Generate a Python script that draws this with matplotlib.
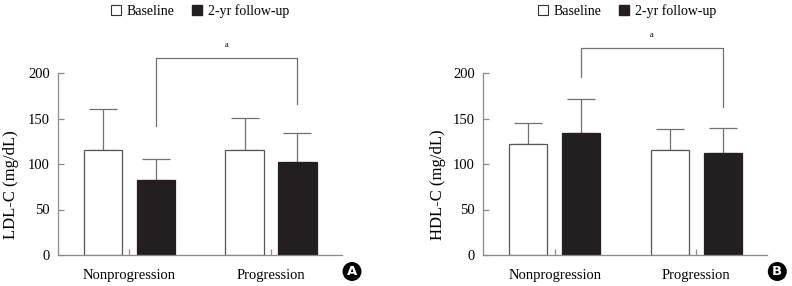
import matplotlib
matplotlib.use("Agg")
import matplotlib.pyplot as plt
from matplotlib.patches import Patch, Ellipse
import numpy as np

plt.rcParams['font.family'] = ['Liberation Serif', 'DejaVu Serif']

groups = ["Nonprogression", "Progression"]
series = ["Baseline", "2-yr follow-up"]

ldl_baseline = [115, 115]
ldl_baseline_sd = [45, 36]
ldl_followup = [82, 102]
ldl_followup_sd = [23, 32]

hdl_baseline = [122, 115]
hdl_baseline_sd = [23, 23]
hdl_followup = [134, 112]
hdl_followup_sd = [37, 28]

yticks = [0, 50, 100, 150, 200]

panels = [
    dict(label="LDL-C (mg/dL)", base=ldl_baseline, base_sd=ldl_baseline_sd,
         fu=ldl_followup, fu_sd=ldl_followup_sd, letter="A",
         bracket=(217, 142, 166), left=58, leg_x=200, lab_x=11),
    dict(label="HDL-C (mg/dL)", base=hdl_baseline, base_sd=hdl_baseline_sd,
         fu=hdl_followup, fu_sd=hdl_followup_sd, letter="B",
         bracket=(228, 196, 163), left=483.3, leg_x=627, lab_x=437.5),
]

W, H = 792, 286
fig = plt.figure(figsize=(W / 100, H / 100), dpi=100)

gray = "#8a8a8a"
black = "#231f20"
off = 0.187
bw = 0.27

for p in panels:
    ax = fig.add_axes([p["left"] / W, (H - 255) / H, 284 / W, 182 / H])
    x = np.arange(len(groups))
    ax.bar(x - off, p["base"], bw, color="white", edgecolor="#555555", linewidth=0.9, zorder=2)
    ax.bar(x + off, p["fu"], bw, color=black, edgecolor=black, linewidth=0.9, zorder=2)
    for xs, vals, sds in ((x - off, p["base"], p["base_sd"]), (x + off, p["fu"], p["fu_sd"])):
        ax.errorbar(xs, vals, yerr=[np.zeros(len(vals)), sds], fmt="none",
                    ecolor="#707070", elinewidth=0.9, capsize=10, capthick=0.9, zorder=1)
    ax.set_xlim(-0.505, 1.502)
    ax.set_ylim(0, 200)
    ax.set_yticks(yticks)
    ax.set_xticks(x)
    ax.set_xticklabels(groups)
    ax.tick_params(axis="both", direction="in", color=gray, length=4, width=0.9, labelsize=10.5)
    ax.tick_params(axis="y", pad=6)
    ax.tick_params(axis="x", pad=10)
    for s in ("top", "right"):
        ax.spines[s].set_visible(False)
    for s in ("left", "bottom"):
        ax.spines[s].set_color(gray)
        ax.spines[s].set_linewidth(0.9)
    fig.text(p["lab_x"] / W, 1 - 185 / H, p["label"], rotation=90, ha="center", va="center",
             fontsize=12)
    top, lb, rb = p["bracket"]
    ax.plot([off, off, 1 + off, 1 + off], [lb, top, top, rb], color="#707070",
            linewidth=0.9, clip_on=False)
    ax.text((2 * off + 1) / 2, top + 14, "a", ha="center", va="center", fontsize=6)
    handles = [Patch(facecolor="white", edgecolor="#333333", linewidth=0.8),
               Patch(facecolor=black, edgecolor=black)]
    fig.legend(handles, series, loc="center", bbox_to_anchor=(p["leg_x"] / W, 1 - 11 / H),
               ncol=2, frameon=False, fontsize=10, handlelength=0.72, handleheight=0.72,
               handletextpad=0.4, columnspacing=1.3, borderpad=0)
    cx = p["left"] + 294
    ell = Ellipse((cx / W, 1 - 271.5 / H), 19 / W, 19 / H, transform=fig.transFigure,
                  facecolor="black", edgecolor="none")
    fig.patches.append(ell)
    fig.text(cx / W, 1 - 271.5 / H, p["letter"], ha="center", va="center", color="white",
             fontsize=9.5, fontweight="bold", family="DejaVu Sans")

fig.savefig("out.png", dpi=100)
